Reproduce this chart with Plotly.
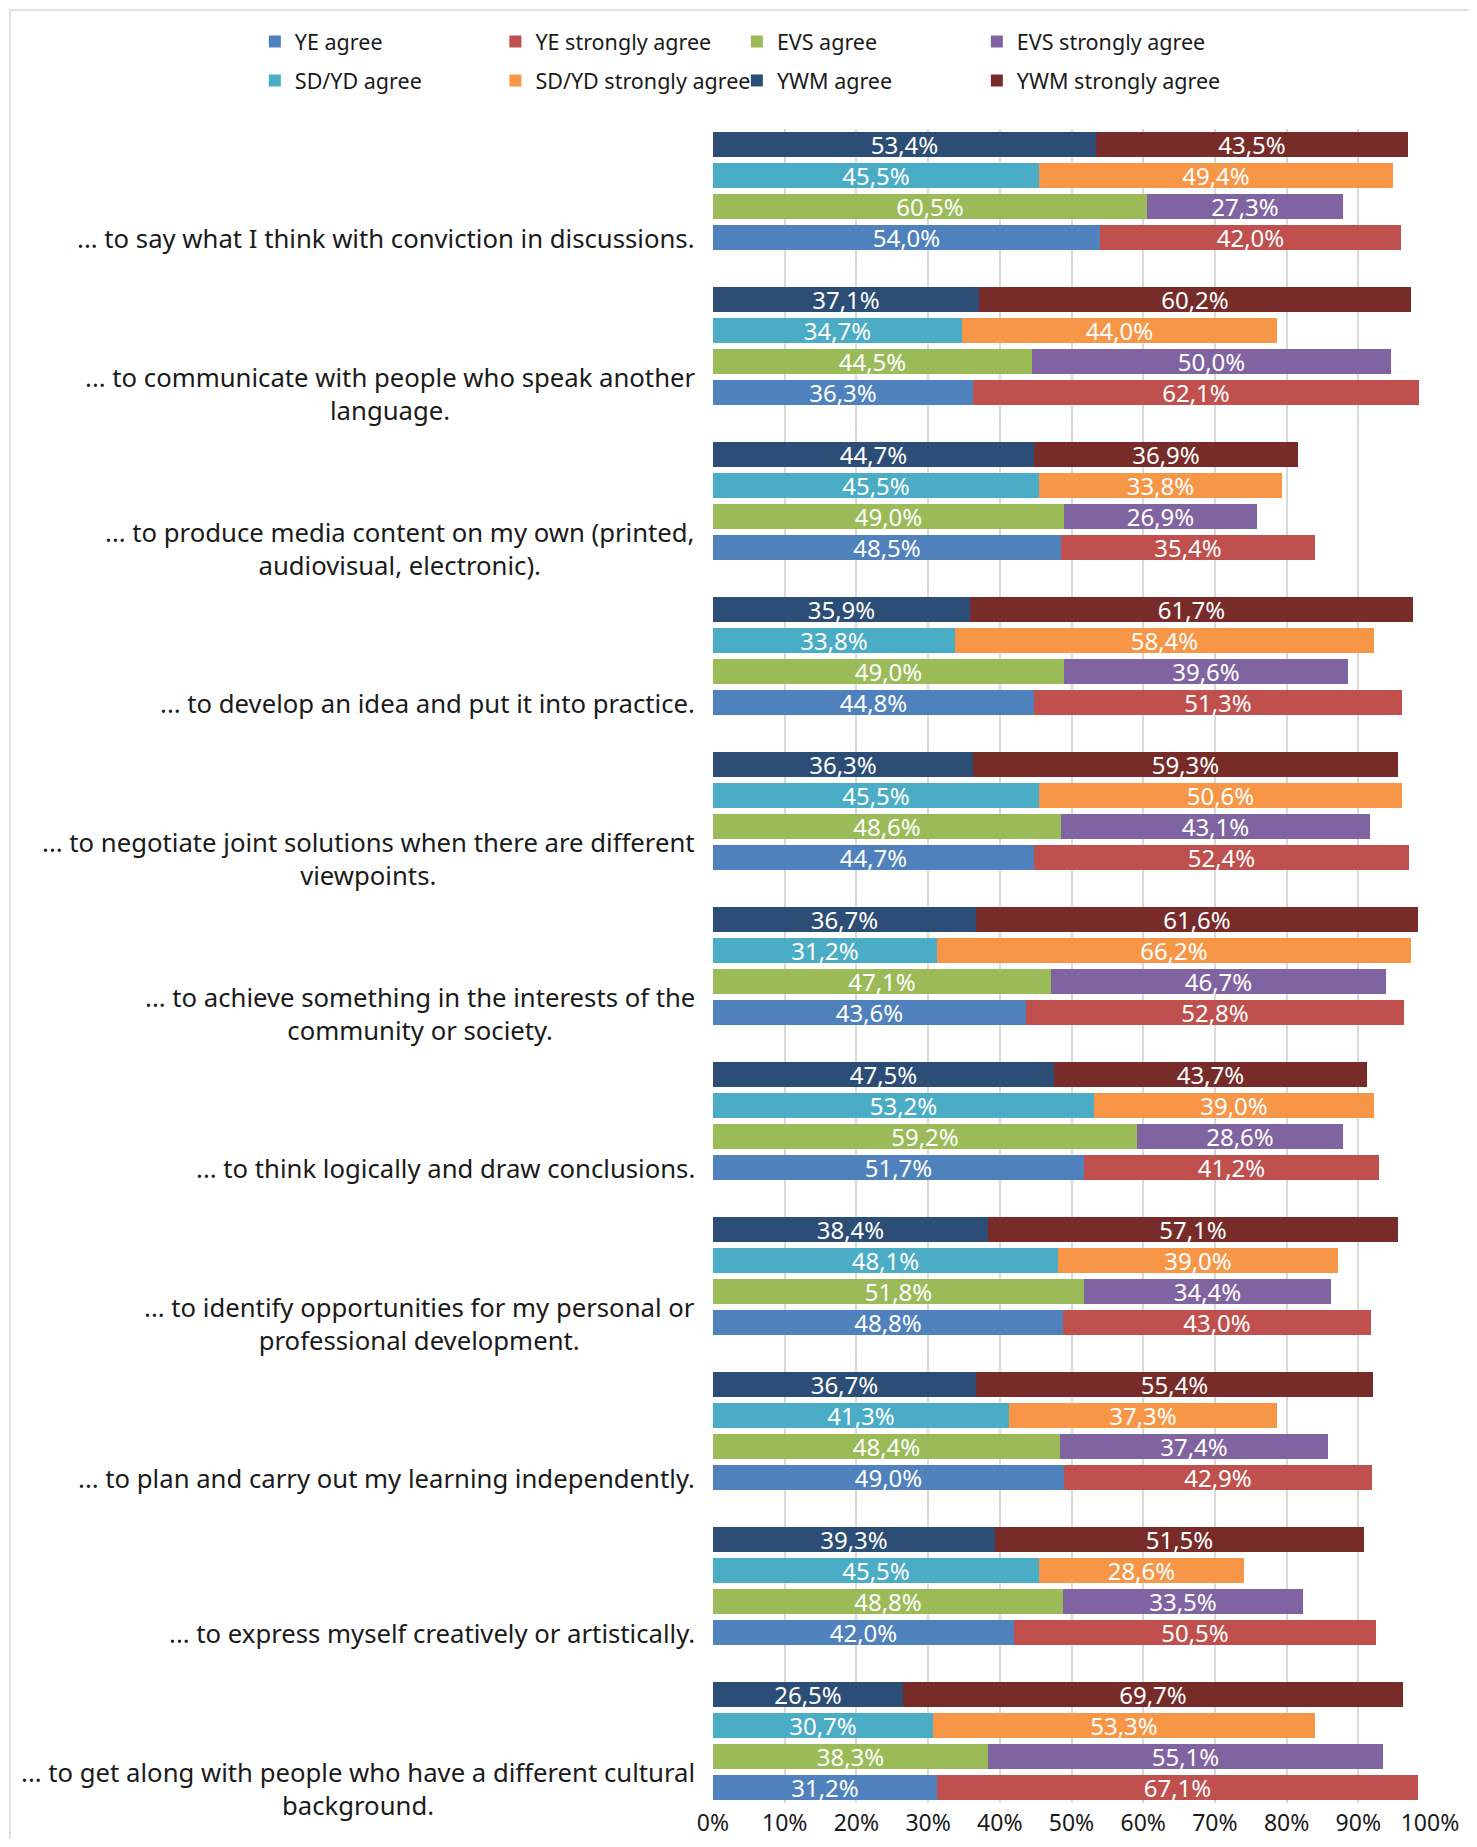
import plotly.graph_objects as go

categories = [
    "... to say what I think with conviction in discussions.",
    "... to communicate with people who speak another<br>language.",
    "... to produce media content on my own (printed,<br>audiovisual, electronic).",
    "... to develop an idea and put it into practice.",
    "... to negotiate joint solutions when there are different<br>viewpoints.",
    "... to achieve something in the interests of the<br>community or society.",
    "... to think logically and draw conclusions.",
    "... to identify opportunities for my personal or<br>professional development.",
    "... to plan and carry out my learning independently.",
    "... to express myself creatively or artistically.",
    "... to get along with people who have a different cultural<br>background.",
]

ye_agree = [54.0, 36.3, 48.5, 44.8, 44.7, 43.6, 51.7, 48.8, 49.0, 42.0, 31.2]
ye_strong = [42.0, 62.1, 35.4, 51.3, 52.4, 52.8, 41.2, 43.0, 42.9, 50.5, 67.1]
evs_agree = [60.5, 44.5, 49.0, 49.0, 48.6, 47.1, 59.2, 51.8, 48.4, 48.8, 38.3]
evs_strong = [27.3, 50.0, 26.9, 39.6, 43.1, 46.7, 28.6, 34.4, 37.4, 33.5, 55.1]
sd_agree = [45.5, 34.7, 45.5, 33.8, 45.5, 31.2, 53.2, 48.1, 41.3, 45.5, 30.7]
sd_strong = [49.4, 44.0, 33.8, 58.4, 50.6, 66.2, 39.0, 39.0, 37.3, 28.6, 53.3]
ywm_agree = [53.4, 37.1, 44.7, 35.9, 36.3, 36.7, 47.5, 38.4, 36.7, 39.3, 26.5]
ywm_strong = [43.5, 60.2, 36.9, 61.7, 59.3, 61.6, 43.7, 57.1, 55.4, 51.5, 69.7]

tick_vals = [0, 10, 20, 30, 40, 50, 60, 70, 80, 90, 100]
tick_text = ["0%", "10%", "20%", "30%", "40%", "50%", "60%", "70%", "80%", "90%", "100%"]

FONT = "Noto Sans, Roboto, sans-serif"
TXT = "#1a1a1a"

n = len(categories)
# slot inside each group: 0 = YWM (top) ... 3 = YE (bottom)
pos = lambda slot: [i * 5 + slot for i in range(n)]

# (name, values, colour, slot, legend column)
series = [
    ("YE agree", ye_agree, "#4F81BD", 3, "legend"),
    ("YE strongly agree", ye_strong, "#C0504D", 3, "legend2"),
    ("EVS agree", evs_agree, "#9BBB59", 2, "legend3"),
    ("EVS strongly agree", evs_strong, "#8064A2", 2, "legend4"),
    ("SD/YD agree", sd_agree, "#4BACC6", 1, "legend"),
    ("SD/YD strongly agree", sd_strong, "#F79646", 1, "legend2"),
    ("YWM agree", ywm_agree, "#2C4D75", 0, "legend3"),
    ("YWM strongly agree", ywm_strong, "#772C2A", 0, "legend4"),
]

fig = go.Figure()
for name, vals, color, slot, leg in series:
    fig.add_trace(go.Bar(
        x=vals, y=pos(slot), orientation="h", name=name,
        marker_color=color, marker_line_width=0, width=0.82,
        texttemplate="%{x:.1f}%", textposition="inside",
        insidetextanchor="middle", constraintext="none",
        textfont=dict(color="white", size=24, family=FONT),
        legend=leg, legendgroup=name,
    ))

for i, lab in enumerate(categories):
    fig.add_annotation(
        x=0, xref="paper", xanchor="right", xshift=-16,
        y=i * 5 + 3, yref="y", yanchor="middle", yshift=-1,
        text=lab, align="center", showarrow=False,
        font=dict(size=25.7, color=TXT, family=FONT),
    )

# chart frame
fig.add_shape(type="rect", xref="paper", yref="paper",
              x0=-0.9805, x1=1.2, y0=-0.2, y1=1.0711,
              line=dict(color="#d9d9d9", width=1.5), layer="below")

leg_common = dict(
    orientation="v", xanchor="left", yanchor="middle", y=1.0406,
    itemwidth=30, tracegroupgap=8, traceorder="grouped",
    font=dict(size=21.5, color=TXT, family=FONT),
    bgcolor="rgba(0,0,0,0)",
)

# page body has an 8px margin, so the figure is 8px smaller/shifted
fig.update_layout(
    width=1461, height=1831,
    margin=dict(l=705, r=39, t=121, b=36, autoexpand=False),
    paper_bgcolor="white", plot_bgcolor="white",
    barmode="stack", bargap=0,
    separators=",.",
    showlegend=True,
    legend=dict(x=-0.639, **leg_common),
    legend2=dict(x=-0.3035, **leg_common),
    legend3=dict(x=0.0333, **leg_common),
    legend4=dict(x=0.368, **leg_common),
    xaxis=dict(
        range=[0, 100], tickvals=tick_vals, ticktext=tick_text,
        showgrid=True, gridcolor="#d9d9d9", gridwidth=1.5,
        zeroline=False, showline=False, automargin=False,
        tickfont=dict(size=23, color=TXT, family=FONT),
        ticklabelstandoff=4,
    ),
    yaxis=dict(
        range=[53.5, -0.5], showticklabels=False, automargin=False,
        showgrid=False, zeroline=False, showline=False,
    ),
)

fig.write_html("out.html")
